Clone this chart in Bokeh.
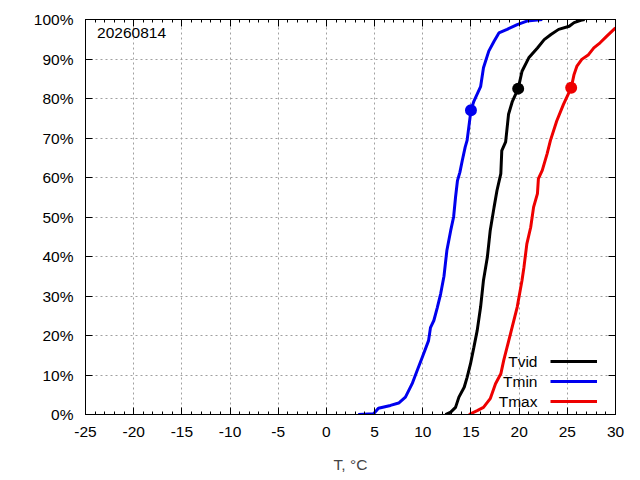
from bokeh.plotting import figure
from bokeh.models import (FixedTicker, LinearAxis, Range1d, Label, Legend,
                          LegendItem, CustomJSTickFormatter)
from bokeh.embed import file_html
from bokeh.resources import INLINE

# ---- data ----
tmin_t = [3.3, 4.9, 5.4, 6.65, 7.5, 8.2, 8.9, 9.4, 9.95, 10.6, 10.8, 11.15, 11.5,
          11.85, 12.2, 12.5, 12.9, 13.2, 13.4, 13.6, 13.85, 14.1, 14.4, 14.6, 15.0,
          15.3, 16.0, 16.3, 16.85, 17.4, 17.9, 18.75, 19.8, 20.8, 22.4]
tmin_p = [0, 0.2, 1.6, 2.3, 2.9, 4.4, 7.8, 11, 14.5, 18.7, 22, 23.8, 27,
          30.5, 35, 41.5, 46.6, 50, 55, 59.2, 61.3, 64.3, 67.7, 69.4, 77,
          79.3, 83, 87.8, 92, 94.5, 96.6, 97.5, 98.7, 99.6, 100]

tvid_t = [12.35, 12.9, 13.4, 13.75, 14.3, 14.6, 14.95, 15.3, 15.65, 16.0, 16.3,
          16.7, 17.0, 17.4, 17.7, 18.1, 18.2, 18.6, 18.9, 19.3, 19.9, 20.3, 21.0,
          21.9, 22.6, 23.3, 24.1, 25.2, 25.7, 26.4, 26.8]
tvid_p = [0, 0.6, 1.8, 4.4, 6.9, 9.4, 12.8, 17, 21.3, 27.2, 34,
          39.8, 46.6, 52.5, 56.7, 61, 66.8, 69, 76, 79.3, 82.5, 86.9, 90.3,
          92.8, 94.9, 96.2, 97.5, 98.3, 99.2, 99.8, 100]

tmax_t = [14.8, 15.65, 16.3, 17.0, 17.55, 18.1, 18.4, 19.1, 19.8, 20.3, 20.5,
          20.8, 21.2, 21.5, 21.9, 22.0, 22.4, 22.9, 23.25, 23.9, 24.6, 25.4,
          25.7, 26.0, 26.5, 27.2, 27.75, 28.4, 29.1, 30.0]
tmax_p = [0, 1, 1.8, 4, 7.8, 10.3, 13.7, 20.4, 27.2, 34, 37.3,
          43.2, 47.4, 52.5, 55.9, 59.7, 61.8, 66, 69.4, 74.3, 78.5, 82.7,
          86.1, 88.2, 89.9, 91.1, 92.8, 94.1, 95.8, 97.9]

marker_t = [19.9, 15.0, 25.4]
marker_p = [82.5, 77.0, 82.7]

series_names = ["Tvid", "Tmin", "Tmax"]
series_colors = ["black", "#0000ee", "#ee0000"]

x_ticks = list(range(-25, 31, 5))
x_minor = list(range(-25, 31, 1))
x_labels = {v: str(v) for v in x_ticks}
y_ticks = list(range(0, 101, 10))
y_labels = {v: f"{v}%" for v in y_ticks}
date_label = "20260814"
x_title = "T, °C"

FONT = "Liberation Sans"
FS = "15.5px"

p = figure(width=640, height=480, x_range=Range1d(-25, 30), y_range=Range1d(0, 100),
           output_backend="svg", toolbar_location=None,
           min_border_left=85, min_border_right=25, min_border_top=19,
           min_border_bottom=66)
p.outline_line_color = "black"
p.outline_line_width = 1
p.background_fill_color = "white"
p.border_fill_color = "white"

# bottom axis
xa = p.xaxis[0]
xa.ticker = FixedTicker(ticks=x_ticks, minor_ticks=x_minor)
xa.major_label_overrides = x_labels
xa.major_tick_in = 7
xa.major_tick_out = 0
xa.minor_tick_in = 3
xa.minor_tick_out = 0
xa.major_label_standoff = 12
xa.major_label_text_font = FONT
xa.major_label_text_font_size = FS
xa.major_label_text_color = "black"
xa.axis_label = x_title
xa.axis_label_text_font = FONT
xa.axis_label_text_font_size = FS
xa.axis_label_text_font_style = "normal"
xa.axis_label_standoff = 16
xa.axis_line_color = "black"

# left axis
ya = p.yaxis[0]
ya.ticker = FixedTicker(ticks=y_ticks)
ya.major_label_overrides = y_labels
ya.major_tick_in = 7
ya.major_tick_out = 0
ya.minor_tick_line_color = None
ya.major_label_standoff = 12
ya.major_label_text_font = FONT
ya.major_label_text_font_size = FS
ya.major_label_text_color = "black"
ya.axis_line_color = "black"

# mirror axes
top = LinearAxis(ticker=FixedTicker(ticks=x_ticks, minor_ticks=x_minor),
                 formatter=CustomJSTickFormatter(code="return ''"),
                 major_tick_in=7, major_tick_out=0, minor_tick_in=3, minor_tick_out=0,
                 major_label_standoff=0, axis_line_color="black",
                 major_label_text_font_size="1px")
p.add_layout(top, "above")
right = LinearAxis(ticker=FixedTicker(ticks=y_ticks),
                   formatter=CustomJSTickFormatter(code="return ''"),
                   major_tick_in=7, major_tick_out=0, minor_tick_line_color=None,
                   major_label_standoff=0, axis_line_color="black",
                   major_label_text_font_size="1px")
p.add_layout(right, "right")

# grid
for g in (p.xgrid[0], p.ygrid[0]):
    g.grid_line_color = "#a0a0a0"
    g.grid_line_dash = "2 3"
    g.grid_line_width = 1

# lines
r_vid = p.line(tvid_t, tvid_p, line_color=series_colors[0], line_width=3)
r_min = p.line(tmin_t, tmin_p, line_color=series_colors[1], line_width=3)
r_max = p.line(tmax_t, tmax_p, line_color=series_colors[2], line_width=3)
p.scatter(marker_t, marker_p, size=12, color=series_colors, line_color=None)

# legend samples (gnuplot style: label then line)
legend = Legend(items=[LegendItem(label=" ", renderers=[r]) for r in (r_vid, r_min, r_max)],
                location=(465, 3), glyph_width=47, glyph_height=20, label_height=20,
                spacing=0, padding=0, margin=0, border_line_color=None,
                background_fill_alpha=0, label_standoff=0, label_width=0,
                label_text_font_size="1px")
p.add_layout(legend)

legend_y = [13.4, 8.35, 3.3]
for name, yy in zip(series_names, legend_y):
    p.add_layout(Label(x=21.9, y=yy, text=name, text_align="right", text_baseline="middle",
                       text_font=FONT, text_font_size=FS, text_color="black"))

p.add_layout(Label(x=-23.8, y=97.8, text=date_label, text_align="left", text_baseline="top",
                   text_font=FONT, text_font_size=FS, text_color="black"))

open("out.html", "w").write(file_html(p, INLINE))
